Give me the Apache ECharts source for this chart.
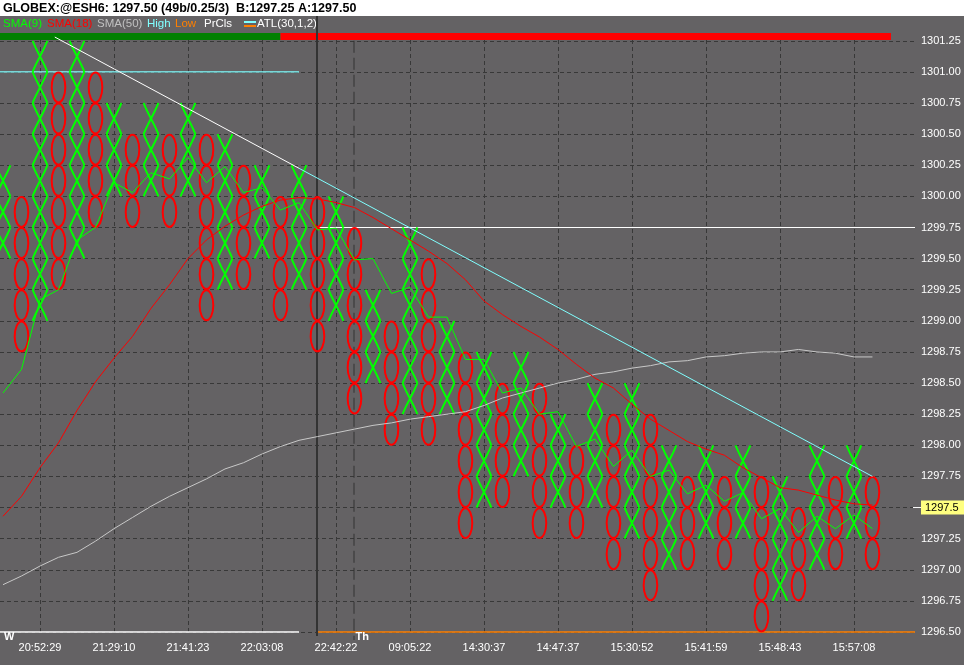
<!DOCTYPE html>
<html><head><meta charset="utf-8">
<script src="https://cdn.jsdelivr.net/npm/echarts@6/dist/echarts.min.js"></script>
<style>html,body{margin:0;padding:0;background:#fff}#c{width:964px;height:668px}</style>
</head><body><div id="c"></div><script>
// ---------- data ----------
const BOX = 0.25;
const columnTypes = 'XOXOXOXOXOXOXOXOXOXOXOXOXOXOXOXOXOXOXOXOXOXOXOXO';
const columnLows = [1299.50,1298.75,1299.00,1299.25,1299.50,1299.75,1300.00,1299.75,1300.00,1299.75,
  1300.00,1299.00,1299.25,1299.25,1299.50,1299.00,1299.25,1298.75,1299.00,1298.25,
  1298.50,1298.00,1298.25,1298.00,1298.25,1297.25,1297.50,1297.50,1297.75,1297.25,
  1297.50,1297.25,1297.50,1297.00,1297.25,1296.75,1297.00,1297.00,1297.25,1297.00,
  1297.25,1296.50,1296.75,1296.75,1297.00,1297.00,1297.25,1297.00];
const columnHighs = [1300.25,1300.00,1301.25,1301.00,1301.25,1301.00,1300.75,1300.50,1300.75,1300.50,
  1300.75,1300.50,1300.50,1300.25,1300.25,1300.00,1300.25,1300.00,1300.00,1299.75,
  1299.25,1299.00,1299.75,1299.50,1299.00,1298.75,1298.75,1298.50,1298.75,1298.50,
  1298.25,1298.00,1298.50,1298.25,1298.50,1298.25,1298.00,1297.75,1298.00,1297.75,
  1298.00,1297.75,1297.75,1297.50,1298.00,1297.75,1298.00,1297.75];
const sma9 = [1298.42,1298.61,1299.17,1299.25,1299.65,1299.75,1300.11,1300.03,1300.19,1300.14,
  1300.31,1300.11,1300.24,1300.03,1300.07,1299.89,1299.95,1299.73,1299.745,1299.49,
  1299.50,1299.22,1299.27,1299.03,1299.03,1298.69,1298.69,1298.42,1298.46,1298.25,
  1298.27,1297.99,1298.05,1297.83,1297.96,1297.75,1297.80,1297.61,1297.68,1297.55,
  1297.62,1297.41,1297.49,1297.30,1297.43,1297.33,1297.44,1297.33];
const sma18 = [1297.43,1297.59,1297.82,1298.02,1298.28,1298.51,1298.70,1298.875,1299.10,1299.29,
  1299.50,1299.65,1299.76,1299.85,1299.92,1299.97,1299.99,1299.98,1299.95,1299.91,
  1299.83,1299.74,1299.65,1299.56,1299.46,1299.33,1299.16,1299.05,1298.955,1298.87,
  1298.77,1298.65,1298.54,1298.46,1298.33,1298.21,1298.12,1298.03,1297.97,1297.92,
  1297.82,1297.74,1297.66,1297.64,1297.60,1297.56,1297.53,1297.52];
const sma50 = [1296.88,1296.95,1297.03,1297.10,1297.14,1297.23,1297.33,1297.42,1297.51,1297.59,
  1297.66,1297.73,1297.81,1297.86,1297.93,1297.99,1298.04,1298.07,1298.10,1298.13,
  1298.16,1298.18,1298.21,1298.23,1298.25,1298.27,1298.32,1298.38,1298.42,1298.46,
  1298.50,1298.53,1298.57,1298.59,1298.62,1298.64,1298.67,1298.68,1298.71,1298.72,
  1298.74,1298.75,1298.75,1298.77,1298.75,1298.74,1298.71,1298.71];
const timeLabelCols = [2,6,10,14,18,22,26,30,34,38,42,46];
const timeLabels = ['20:52:29','21:29:10','21:41:23','22:03:08','22:42:22','09:05:22',
  '14:30:37','14:47:37','15:30:52','15:41:59','15:48:43','15:57:08'];
const priceTicks = [1296.50,1296.75,1297.00,1297.25,1297.50,1297.75,1298.00,1298.25,1298.50,1298.75,
  1299.00,1299.25,1299.50,1299.75,1300.00,1300.25,1300.50,1300.75,1301.00,1301.25];
const highLevel = 1301.00;
const prevClose = 1299.75;
const lowLevel = 1296.50;
const lastPrice = 1297.50;
const priorSessionLastCol = 16;
const sessionStartCol = 17;
const dayBreakCol = 19;
const trendBars = [[-0.162, 15, 1], [15, 48, 0]];
const atlStart = [2.8, 1301.28];
const atlEnd = [47, 1297.75];
const sessionMarks = [[0, 'W'], [19, 'Th']];
const titleText = 'GLOBEX:@ESH6: 1297.50 (49b/0.25/3)  B:1297.25 A:1297.50';

// ---------- chart ----------
const X_MIN = -0.162, X_MAX = 49.3, Y_MIN = 1296.5, Y_MAX = 1301.3125;
const FONT = "'Liberation Sans', Arial, sans-serif";
const GRIDC = '#383838';

function xStroke(cx, top, bot, w, dir) {
  const pts = [];
  for (let k = 0; k <= 8; k++) {
    const t = k / 8;
    const off = w * (0.15 * Math.cos(Math.PI * t) + 0.85 * (1 - 2 * t)) * dir;
    pts.push([cx + off, top + (bot - top) * t]);
  }
  return pts;
}

function renderPnF(params, api) {
  const col = api.value(0), lo = api.value(1), hi = api.value(2), isX = api.value(3) === 1;
  const cw = api.size([1, 0])[0];
  const half = cw * 0.4;
  const children = [];
  for (let p = lo; p < hi - 1e-9; p += BOX) {
    const a = api.coord([col, p + BOX]);
    const b = api.coord([col, p]);
    const cx = a[0], top = a[1], bot = b[1];
    if (isX) {
      children.push({type: 'polyline', shape: {points: xStroke(cx, top, bot, half, -1)},
        style: {stroke: '#00ff00', lineWidth: 2, fill: null}});
      children.push({type: 'polyline', shape: {points: xStroke(cx, top, bot, half, 1)},
        style: {stroke: '#00ff00', lineWidth: 2, fill: null}});
    } else {
      children.push({type: 'ellipse', shape: {cx: cx, cy: (top + bot) / 2, rx: half - 0.6, ry: (bot - top) / 2 - 0.6},
        style: {stroke: '#ff0000', lineWidth: 2, fill: null}});
    }
  }
  return {type: 'group', children: children};
}

function renderTrendBar(params, api) {
  const x0 = api.coord([api.value(0), Y_MAX])[0];
  const x1 = api.coord([api.value(1), Y_MAX])[0];
  const y0 = api.coord([0, Y_MAX])[1];
  return {type: 'rect', shape: {x: x0, y: y0, width: x1 - x0, height: 7},
    style: {fill: api.value(2) === 1 ? '#008000' : '#ff0000'}};
}

function renderDivider(params, api) {
  const x = Math.round(api.coord([api.value(0), Y_MIN])[0]);
  const solid = api.value(1) === 0;
  const yBot = api.coord([0, Y_MIN])[1];
  const yTop = solid ? 16 : api.coord([0, 1301.25])[1];
  return {type: 'line', shape: {x1: x, y1: yTop, x2: x, y2: yBot + (solid ? 4 : 8)},
    style: {stroke: '#333333', lineWidth: solid ? 2 : 1, lineDash: solid ? null : [12, 5]}};
}

function renderSessionMark(params, api) {
  const p = api.coord([api.value(0), Y_MIN]);
  return {type: 'text', x: p[0] + 1, y: p[1] - 1,
    style: {text: sessionMarks[params.dataIndex][1], fill: '#ffffff', font: 'bold 11px ' + FONT,
      textAlign: 'left', textVerticalAlign: 'top'}};
}

function renderLastLabel(params, api) {
  const p = api.coord([X_MAX, api.value(0)]);
  return {type: 'group', children: [
    {type: 'line', shape: {x1: p[0] - 2, y1: p[1], x2: p[0] + 6, y2: p[1]}, style: {stroke: '#ffffff', lineWidth: 1}},
    {type: 'rect', shape: {x: p[0] + 6, y: p[1] - 7, width: 43, height: 14}, style: {fill: '#ffff80'}},
    {type: 'text', x: p[0] + 10, y: p[1], style: {text: lastPrice.toFixed(1), fill: '#000000',
      font: '11px ' + FONT, textAlign: 'left', textVerticalAlign: 'middle'}}
  ]};
}

const pnfData = columnLows.map((lo, i) => [i, lo, columnHighs[i], columnTypes[i] === 'X' ? 1 : 0]);
const atlSplit = atlStart[1] + (atlEnd[1] - atlStart[1]) * (priorSessionLastCol - atlStart[0]) / (atlEnd[0] - atlStart[0]);

const hGrid = priceTicks.map(v => ({yAxis: v}));
const vGrid = timeLabelCols.map(c => ({xAxis: c}));

function levelLine(name, pts, color, width) {
  return {name: name, type: 'line', data: pts, symbol: 'none', clip: false, silent: true, z: 4,
    lineStyle: {color: color, width: width || 1, type: 'solid'}};
}

const legendItems = [
  ['SMA(9)', '#00ff00', 3], ['SMA(18)', '#ff0000', 47], ['SMA(50)', '#c0c0c0', 97],
  ['High', '#80ffff', 147], ['Low', '#ff8000', 175], ['PrCls', '#ffffff', 204], ['ATL(30,1,2)', '#ffffff', 257]
];

const chart = echarts.init(document.getElementById('c'), null, {renderer: 'canvas'});
chart.setOption({
  animation: false,
  backgroundColor: '#ffffff',
  textStyle: {fontFamily: FONT},
  graphic: [
    {type: 'rect', z: -10, shape: {x: 0, y: 16, width: 964, height: 649}, style: {fill: '#646264'}},
    {type: 'text', left: 3, top: 2, style: {text: titleText, fill: '#000000', font: 'bold 12.5px ' + FONT}},
    ...legendItems.map(it => ({type: 'text', left: it[2], top: 18,
      style: {text: it[0], fill: it[1], font: '11.5px ' + FONT}})),
    {type: 'line', shape: {x1: 244, y1: 22, x2: 256, y2: 22}, style: {stroke: '#80ffff', lineWidth: 2}},
    {type: 'line', shape: {x1: 244, y1: 26, x2: 256, y2: 26}, style: {stroke: '#ff8000', lineWidth: 2}}
  ],
  grid: {left: 0, right: 49, top: 33, bottom: 36, containLabel: false},
  xAxis: {type: 'value', min: X_MIN, max: X_MAX,
    axisLine: {show: false}, axisTick: {show: false}, splitLine: {show: false},
    axisLabel: {customValues: timeLabelCols, color: '#ffffff', fontSize: 11, margin: 10,
      formatter: v => timeLabels[timeLabelCols.indexOf(Math.round(v))] || ''}},
  yAxis: {type: 'value', position: 'right', min: Y_MIN, max: Y_MAX,
    axisLine: {show: false}, axisTick: {show: false}, splitLine: {show: false},
    axisLabel: {customValues: priceTicks, color: '#ffffff', fontSize: 11, margin: 6,
      formatter: v => Number(v).toFixed(2)}},
  series: [
    {name: 'grid', type: 'line', data: [[X_MIN - 1, Y_MIN - 1]], symbol: 'none', silent: true, z: 1,
      lineStyle: {opacity: 0},
      markLine: {z: 1, silent: true, symbol: 'none', label: {show: false}, animation: false,
        lineStyle: {color: GRIDC, type: [4, 3], width: 1}, emphasis: {disabled: true},
        data: hGrid.concat(vGrid)}},
    {name: 'trend', type: 'custom', renderItem: renderTrendBar, data: trendBars, clip: false, silent: true, z: 3},
    {name: 'dividers', type: 'custom', renderItem: renderDivider,
      data: [[sessionStartCol, 0], [dayBreakCol, 1]], clip: false, silent: true, z: 5},
    levelLine('High', [[X_MIN, highLevel], [priorSessionLastCol, highLevel]], '#80ffff', 1.2),
    levelLine('PrCls', [[sessionStartCol, prevClose], [X_MAX, prevClose]], '#ffffff', 1.2),
    levelLine('Low', [[sessionStartCol, lowLevel], [X_MAX, lowLevel]], '#ff8000', 1.6),
    levelLine('PriorLow', [[X_MIN, lowLevel], [priorSessionLastCol, lowLevel]], '#ffffff', 1.6),
    {name: 'PnF', type: 'custom', renderItem: renderPnF, data: pnfData, clip: false, silent: true, z: 6,
      encode: {x: 0, y: [1, 2]}},
    {name: 'SMA(50)', type: 'line', data: sma50.map((v, i) => [i, v]), symbol: 'none', silent: true, z: 7,
      lineStyle: {color: '#c8c8c8', width: 1}},
    {name: 'SMA(18)', type: 'line', data: sma18.map((v, i) => [i, v]), symbol: 'none', silent: true, z: 7,
      lineStyle: {color: '#ff0000', width: 1}},
    {name: 'SMA(9)', type: 'line', data: sma9.map((v, i) => [i, v]), symbol: 'none', silent: true, z: 7,
      lineStyle: {color: '#00ff00', width: 1}},
    {name: 'ATL', type: 'line', data: [atlStart, [priorSessionLastCol, atlSplit]], symbol: 'none', clip: false,
      silent: true, z: 7, lineStyle: {color: '#ffffff', width: 1}},
    {name: 'ATL2', type: 'line', data: [[priorSessionLastCol, atlSplit], atlEnd], symbol: 'none', clip: false,
      silent: true, z: 7, lineStyle: {color: '#80ffff', width: 1}},
    {name: 'marks', type: 'custom', renderItem: renderSessionMark, data: sessionMarks.map(m => [m[0]]),
      clip: false, silent: true, z: 8},
    {name: 'last', type: 'custom', renderItem: renderLastLabel, data: [[lastPrice]], clip: false, silent: true, z: 9,
      encode: {y: 0}}
  ]
});
</script></body></html>
